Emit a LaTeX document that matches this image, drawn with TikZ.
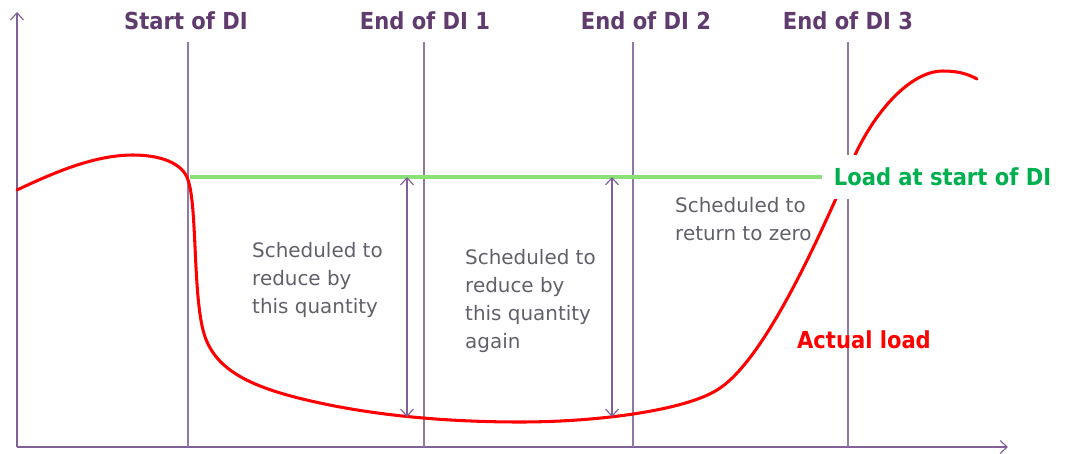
\documentclass[tikz,border=0pt]{standalone}
\usepackage{fontspec}
\setmainfont{DejaVu Sans Condensed}
\newfontfamily\notefont{DejaVu Sans}
\usetikzlibrary{arrows.meta}
\definecolor{axispurple}{RGB}{128,96,150}
\definecolor{labelpurple}{RGB}{96,60,110}
\definecolor{loadgreen}{RGB}{0,176,80}
\definecolor{linegreen}{RGB}{140,224,120}
\definecolor{notegray}{RGB}{96,96,106}
\tikzset{
  marker/.style={draw=axispurple!85, line width=1pt},
  dilabel/.style={text=labelpurple, font=\bfseries\fontsize{20}{24}\selectfont},
  note/.style={text=notegray, font=\notefont\fontsize{17}{24}\selectfont, align=left, anchor=north west, inner sep=0pt},
  qty/.style={draw=axispurple, line width=1pt, {Straight Barb[length=6pt,width=11pt]}-{Straight Barb[length=6pt,width=11pt]}},
}
\begin{document}
\begin{tikzpicture}[x=0.03cm,y=-0.03cm]
\useasboundingbox (0,0) rectangle (1073,454);
% axes
\coordinate (o) at (17,447);
\coordinate (ytop) at (17,12);
\coordinate (xend) at (1008,447);
\draw[axispurple, line width=1pt, -{Straight Barb[length=6pt,width=11pt]}] (o) -- (ytop);
\draw[axispurple, line width=1pt, -{Straight Barb[length=6pt,width=11pt]}] (o) -- (xend);
% DI markers
\foreach \x/\lx/\name/\txt in {188/186/start/Start of DI, 424/425/di1/End of DI 1, 633/646/di2/End of DI 2, 848/848/di3/End of DI 3}{
  \node[dilabel] (\name) at (\lx,21) {\txt};
  \draw[marker] (\x,42) -- (\x,447);
}
% actual load
\draw[red, line width=2.6pt, line cap=round] (17,190)
  .. controls (55,172) and (95,155) .. (133,155)
  .. controls (160,155) and (183,163) .. (188,180)
  .. controls (197,205) and (193,290) .. (203,330)
  .. controls (213,370) and (250,388) .. (320,403)
  .. controls (380,416) and (450,422) .. (520,422)
  .. controls (600,422) and (685,410) .. (717,390)
  .. controls (760,364) and (810,260) .. (855,155)
  .. controls (875,112) and (910,71) .. (943,71)
  .. controls (958,71) and (968,74) .. (977,79);
% load at start
\coordinate (lstart) at (190,177);
\node[text=loadgreen, font=\bfseries\fontsize{20}{24}\selectfont, fill=white, anchor=west,
  minimum height=37pt, inner xsep=10pt] (loadlbl) at (822,177) {Load at start of DI};
\draw[linegreen, line width=3.2pt] (lstart) -- (loadlbl.west);
% quantities
\coordinate (q1top) at (407,177);
\coordinate (q1bot) at (407,417);
\coordinate (q2top) at (612,177);
\coordinate (q2bot) at (612,417);
\draw[qty] (q1top) -- (q1bot);
\draw[qty] (q2top) -- (q2bot);
\node[note] (note1) at (252,242) {Scheduled to\\reduce by\\this quantity};
\node[note] (note2) at (465,249) {Scheduled to\\reduce by\\this quantity\\again};
\node[note] (note3) at (675,197) {Scheduled to\\return to zero};
\node[text=red, font=\bfseries\fontsize{20}{24}\selectfont] (actual) at (864,340) {Actual load};
\end{tikzpicture}
\end{document}
